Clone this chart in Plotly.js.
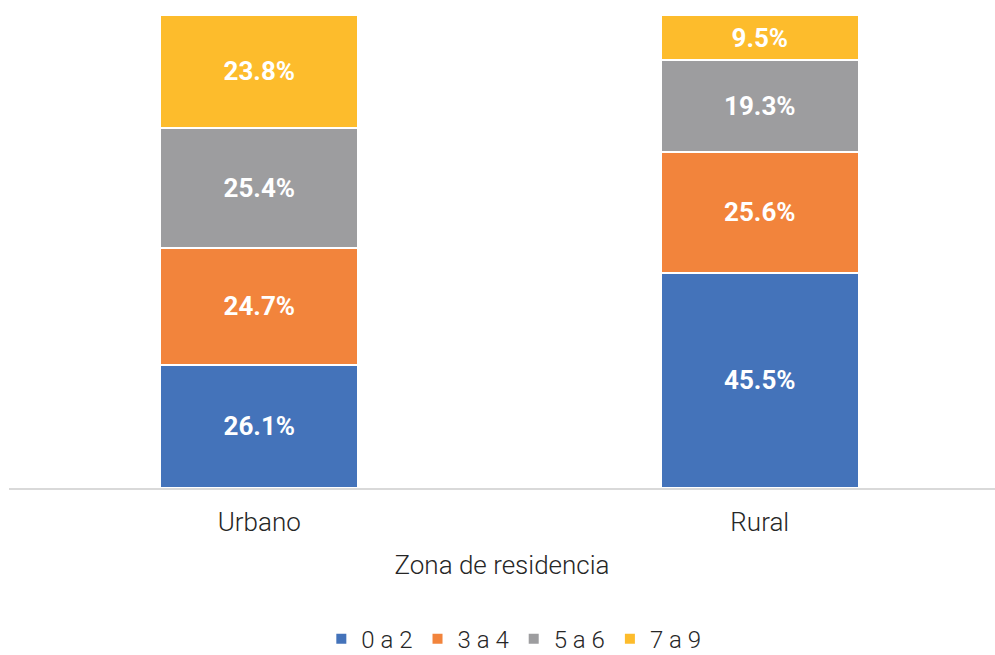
<!DOCTYPE html>
<html>
<head>
<meta charset="utf-8">
<script src="https://cdn.plot.ly/plotly-3.0.1.min.js"></script>
<style>html,body{margin:0;padding:0;background:#fff;}#chart{width:995px;height:655px;}</style>
</head>
<body>
<div id="chart"></div>
<script>
var categories = ["Urbano", "Rural"];
var seriesNames = ["0 a 2", "3 a 4", "5 a 6", "7 a 9"];
var values_0a2 = [26.1, 45.5];
var values_3a4 = [24.7, 25.6];
var values_5a6 = [25.4, 19.3];
var values_7a9 = [23.8, 9.5];
var colors = ["#4473BA", "#F2843C", "#9D9D9F", "#FDBC2C"];

var allValues = [values_0a2, values_3a4, values_5a6, values_7a9];
var traces = allValues.map(function (vals, i) {
  return {
    type: "bar",
    name: seriesNames[i],
    x: categories,
    y: vals,
    text: vals.map(function (v) { return v.toFixed(1) + "%"; }),
    textposition: "inside",
    insidetextanchor: "middle",
    textangle: 0,
    textfont: { family: "Roboto", size: 26, color: "#ffffff", weight: 700 },
    marker: { color: colors[i], line: { color: "#ffffff", width: 2 } },
    hoverinfo: "skip"
  };
});

var layout = {
  width: 995,
  height: 655,
  barmode: "stack",
  bargap: 0.604,
  margin: { l: 9, r: 0, t: 15, b: 167, autoexpand: false },
  paper_bgcolor: "#ffffff",
  plot_bgcolor: "#ffffff",
  font: { family: "Roboto", color: "#262626" },
  xaxis: {
    range: [-0.5, 1.47],
    automargin: false,
    showline: true,
    linecolor: "#d9d9d9",
    linewidth: 1.5,
    ticks: "",
    tickfont: { family: "Roboto", size: 26, weight: 300, color: "#262626" },
    ticklabelstandoff: 10,
    title: { text: "Zona de residencia", font: { family: "Roboto", size: 26, weight: 300, color: "#262626" }, standoff: 20 },
    fixedrange: true
  },
  yaxis: {
    range: [0, 100],
    visible: false,
    automargin: false,
    showgrid: false,
    zeroline: false,
    fixedrange: true
  },
  showlegend: true,
  legend: {
    orientation: "h",
    x: 0.512,
    xanchor: "center",
    y: -0.3195,
    yanchor: "middle",
    traceorder: "normal",
    itemwidth: 30,
    font: { family: "Roboto", size: 24, weight: 300, color: "#262626" }
  }
};

Plotly.newPlot("chart", traces, layout, { displayModeBar: false, staticPlot: true });
</script>
</body>
</html>
